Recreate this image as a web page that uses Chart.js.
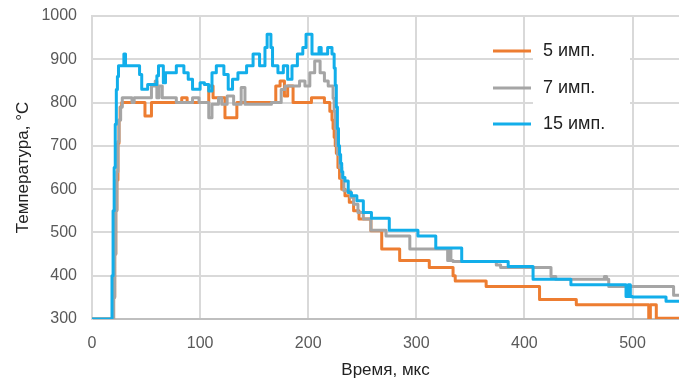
<!DOCTYPE html>
<html>
<head>
<meta charset="utf-8">
<script src="https://cdn.jsdelivr.net/npm/chart.js@4/dist/chart.umd.min.js"></script>
<style>
  html, body { margin: 0; padding: 0; background: #fff; }
  #wrap { width: 679px; height: 384px; }
</style>
</head>
<body>
<div id="wrap"><canvas id="tempChart" width="679" height="384"></canvas></div>
<script>
// Время (мкс) начала каждой ступени и температура на ней
const t5 = [0, 20, 21, 22, 23, 24, 25, 26, 27.5, 44, 49, 55, 83, 88, 108, 112, 123, 134, 170, 174, 178, 181, 186, 203, 215, 220, 222, 223, 224, 225, 226, 227.5, 229, 231, 234, 238, 242, 247, 258, 268, 284.6, 312, 334, 336, 364.6, 414, 448, 515, 516.5, 522, 543];
const temp5 = [300, 350, 450, 552, 621, 706, 760, 790, 800, 800, 769, 800, 811, 800, 838, 811, 765, 800, 838, 850, 815, 838, 800, 811, 800, 780, 760, 740, 720, 700, 683, 650, 625, 600, 585, 570, 550, 531, 504, 462, 435, 419, 400, 388, 375, 345, 333, 300, 333, 302, 302];

const t7 = [0, 20, 21, 22, 23, 24, 25, 26.5, 28, 37, 39, 55, 58.5, 60, 62, 65, 78, 93, 99, 108, 111, 117, 120, 125, 131, 138, 141.5, 166, 175, 178.5, 192, 197, 201.5, 206, 211, 215, 218.5, 223, 224, 225, 226, 227, 229, 231, 233, 239, 242, 246, 251, 258, 272, 294, 329, 330.5, 332, 334, 374, 378, 424.6, 429, 474, 476, 478, 538, 543];
const temp7 = [300, 350, 450, 550, 640, 710, 760, 790, 811, 800, 811, 838, 850, 811, 838, 811, 800, 811, 800, 765, 796, 811, 796, 815, 796, 835, 796, 800, 830, 838, 850, 838, 869, 896, 869, 850, 838, 810, 780, 740, 700, 680, 650, 625, 596, 581, 565, 546, 531, 505, 492, 462, 435, 462, 435, 433, 425, 419, 398, 392, 398, 392, 375, 355, 355];

const t15 = [0, 18.5, 19.5, 20.5, 21.5, 22.5, 23.5, 24.5, 29.5, 31, 44, 46, 51.5, 60, 61.5, 66, 68, 78, 85, 89, 93, 100, 104, 108, 111, 115, 122, 126, 130, 135, 143, 149, 155, 160, 162, 165.5, 167, 172, 177, 181, 185, 190, 195, 198, 203.5, 210, 212, 218, 222, 224, 225, 226, 227, 228, 229, 230, 231, 232, 234, 237, 240, 245, 251, 258.5, 275, 301.5, 318, 342, 385, 408, 443, 494, 496, 498, 500, 531, 543];
const temp15 = [300, 400, 550, 650, 750, 830, 860, 885, 912, 885, 865, 831, 842, 862, 885, 846, 869, 885, 869, 854, 831, 846, 842, 827, 869, 885, 865, 831, 854, 869, 885, 912, 885, 927, 958, 927, 885, 869, 885, 854, 885, 912, 927, 958, 912, 927, 912, 927, 912, 880, 840, 790, 740, 700, 680, 660, 640, 627, 619, 592, 585, 573, 546, 533, 505, 492, 464, 433, 421, 392, 379, 352, 379, 352, 351, 341, 341];

const seriesNames = ['5 имп.', '7 имп.', '15 имп.'];
const seriesColors = ['#ED7D31', '#A5A5A5', '#12AEEA'];

const yTicks = [300, 400, 500, 600, 700, 800, 900, 1000];
const xTickStep = 100;

function toPoints(ts, vs) {
    return ts.map((t, i) => ({ x: t, y: vs[i] }));
}

// Легенда внутри области графика, как в исходной картинке
const insideLegend = {
    id: 'insideLegend',
    afterDraw(chart) {
        const ctx = chart.ctx;
        const area = chart.chartArea;
        const x0 = area.left + 401;
        const rows = [area.top + 35, area.top + 72, area.top + 108];
        ctx.save();
        ctx.fillStyle = '#fff';
        ctx.fillRect(area.left + 441, area.top + 16, 97, 112);
        ctx.lineWidth = 3;
        ctx.font = '18px "Liberation Sans", Arial, sans-serif';
        ctx.textBaseline = 'middle';
        ctx.textAlign = 'left';
        seriesNames.forEach((name, i) => {
            ctx.strokeStyle = seriesColors[i];
            ctx.beginPath();
            ctx.moveTo(x0, rows[i]);
            ctx.lineTo(x0 + 38, rows[i]);
            ctx.stroke();
            ctx.fillStyle = '#1f1f1f';
            ctx.fillText(name, x0 + 50, rows[i]);
        });
        ctx.restore();
    }
};

const ctx = document.getElementById('tempChart').getContext('2d');

const tempChart = new Chart(ctx, {
    type: 'line',
    data: {
        datasets: [
            { label: seriesNames[0], data: toPoints(t5, temp5), borderColor: seriesColors[0], order: 3 },
            { label: seriesNames[1], data: toPoints(t7, temp7), borderColor: seriesColors[1], order: 2 },
            { label: seriesNames[2], data: toPoints(t15, temp15), borderColor: seriesColors[2], order: 1 }
        ]
    },
    options: {
        responsive: false,
        animation: false,
        layout: { autoPadding: false, padding: { top: 16, right: 0, left: 0, bottom: 0 } },
        elements: {
            line: { borderWidth: 3, stepped: 'before', tension: 0, borderJoinStyle: 'round', fill: false },
            point: { radius: 0 }
        },
        plugins: {
            legend: { display: false },
            tooltip: { enabled: false }
        },
        scales: {
            x: {
                type: 'linear',
                min: 0,
                max: 543,
                grid: { color: '#D9D9D9', lineWidth: 2, drawTicks: false },
                border: { color: '#BFBFBF', width: 2 },
                ticks: {
                    stepSize: xTickStep,
                    includeBounds: false,
                    padding: 15,
                    color: '#595959',
                    font: { family: '"Liberation Sans", Arial, sans-serif', size: 16 },
                    callback: v => String(v)
                },
                title: {
                    display: true,
                    text: 'Время, мкс',
                    color: '#222',
                    font: { family: '"Liberation Sans", Arial, sans-serif', size: 17 },
                    padding: { top: 0, bottom: 3 }
                },
                afterFit(scale) {
                    scale.height = 65;
                    scale.paddingLeft = 0;
                    scale.paddingRight = 0;
                }
            },
            y: {
                min: 300,
                max: 1000,
                grid: { color: '#D9D9D9', lineWidth: 2, drawTicks: false },
                border: { color: '#D9D9D9', width: 2 },
                afterBuildTicks(scale) { scale.ticks = yTicks.map(v => ({ value: v })); },
                ticks: {
                    padding: 15,
                    color: '#595959',
                    font: { family: '"Liberation Sans", Arial, sans-serif', size: 16 },
                    callback: v => String(v)
                },
                title: {
                    display: true,
                    text: 'Температура, °С',
                    color: '#222',
                    font: { family: '"Liberation Sans", Arial, sans-serif', size: 17 },
                    padding: { top: 13, bottom: 0 }
                },
                afterFit(scale) {
                    scale.width = 92;
                    scale.paddingTop = 0;
                    scale.paddingBottom = 0;
                }
            }
        }
    },
    plugins: [insideLegend]
});
</script>
</body>
</html>
